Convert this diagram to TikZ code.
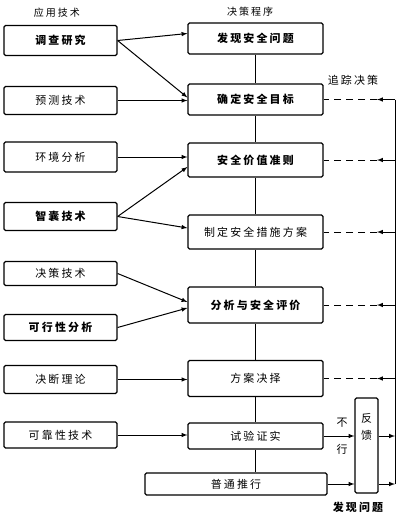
\documentclass[tikz,border=0pt,11pt]{standalone}
\usepackage{fontspec}
\setmainfont{Noto Sans CJK SC}[LetterSpace=20]
\usetikzlibrary{positioning,arrows}
\tikzset{%
  >=latex,
  tech/.style = {draw, rectangle, line width=1.2pt, rounded corners=1.5pt,
    minimum width=113pt, minimum height=28pt, inner sep=2pt},
  proc/.style = {draw, rectangle, line width=1.2pt, rounded corners=1.5pt,
    minimum width=135pt, minimum height=31pt, inner sep=2pt},
  line/.style = {draw, line width=1pt, ->},
  back/.style = {draw, line width=1pt, dash pattern=on 7pt off 5pt}
}

\begin{document}
\begin{tikzpicture}[x=1pt,y=-1pt,
	bf/.style={font=\bfseries},
	lbl/.style={inner sep=1pt}]
	\useasboundingbox (0,0) rectangle (405,515);
	% headings
	\node[lbl,font=\small] (h1) at (57,13) {应用技术};
	\node[lbl,font=\small] (h2) at (250,12) {决策程序};
	% applied techniques
	\node[tech,bf,minimum height=30pt] (t1) at (60.5,40.5) {调查研究};
	\node[tech] (t2) at (60.5,100.5) {预测技术};
	\node[tech,minimum height=30pt] (t3) at (60.5,157) {环境分析};
	\node[tech,bf] (t4) at (60.5,216.5) {智囊技术};
	\node[tech,minimum height=24pt] (t5) at (60.5,273.5) {决策技术};
	\node[tech,bf,minimum height=26pt] (t6) at (60.5,327.5) {可行性分析};
	\node[tech] (t7) at (60.5,379.5) {决断理论};
	\node[tech,minimum height=26pt] (t8) at (60.5,435) {可靠性技术};
	% decision procedure
	\node[proc,bf] (p1) at (255.5,38.5) {发现安全问题};
	\node[proc,bf] (p2) at (255.5,99.5) {确定安全目标};
	\node[proc,bf,minimum height=34pt] (p3) at (255.5,160) {安全价值准则};
	\node[proc,minimum height=34pt] (p4) at (255.5,232) {制定安全措施方案};
	\node[proc,bf,minimum height=36pt] (p5) at (255.5,305) {分析与安全评价};
	\node[proc,minimum height=36pt] (p6) at (255.5,378.5) {方案决择};
	\node[proc,minimum height=26pt] (p7) at (255.5,436) {试验证实};
	\node[proc,minimum width=182pt,minimum height=22pt] (p8) at (236,484) {普通推行};
	% feedback
	\node[draw,rectangle,line width=1.2pt,rounded corners=1.5pt,minimum width=23pt,
		minimum height=95pt,inner sep=0pt,
		label={[align=center,anchor=north,yshift=-15pt,inner sep=1pt]north:反\\[3pt]馈}]
		(fb) at (366.5,445.5) {};
	\node[lbl,bf] (fbq) at (358,507) {发现问题};
	\node[lbl] (trk) at (353,80) {追踪决策};
	\node[lbl] (no1) at (342,423) {不};
	\node[lbl] (no2) at (342,449) {行};
	\coordinate (rt) at (395,99.5);
	\coordinate (rb) at (395,484);

	\draw[line] (t1.east) -- ([yshift=5pt]p1.west);
	\draw[line] (t1.east) -- ([yshift=2pt]p2.west);
	\draw[line] (t2.east) -- (t2.east -| p2.west);
	\draw[line] (t3.east) -- (t3.east -| p3.west);
	\draw[line] (t4.east) -- ([yshift=-7pt]p3.west);
	\draw[line] (t4.east) -- ([yshift=4pt]p4.west);
	\draw[line] (t5.east) -- ([yshift=3pt]p5.west);
	\draw[line] (t6.east) -- ([yshift=-3pt]p5.west);
	\draw[line] (t7.east) -- (t7.east -| p6.west);
	\draw[line] (t8.east) -- (t8.east -| p7.west);

	\foreach \a/\b in {p1/p2,p2/p3,p3/p4,p4/p5,p5/p6,p6/p7}
		\draw[line width=1pt] (\a.south) -- (\b.north);
	\draw[line width=1pt] (p7.south) -- (p7.south |- p8.north);

	\draw[line] (p7.east) -- (p7.east -| fb.west);
	\draw[line] (p8.east) -- (p8.east -| fb.west);
	\draw[line] (fb.east |- p7.east) -- (p7.east -| rt);
	\draw[line] (fb.east |- p8.east) -- (rb);
	\draw[line width=1pt] (rt) -- (rb);

	\foreach \p in {p2,p3,p4,p5,p6} {
		\draw[line] (\p.east -| rt) -- ++(-18,0) coordinate (tip);
		\draw[back] (tip) -- (\p.east);
	}
\end{tikzpicture}
\end{document}
